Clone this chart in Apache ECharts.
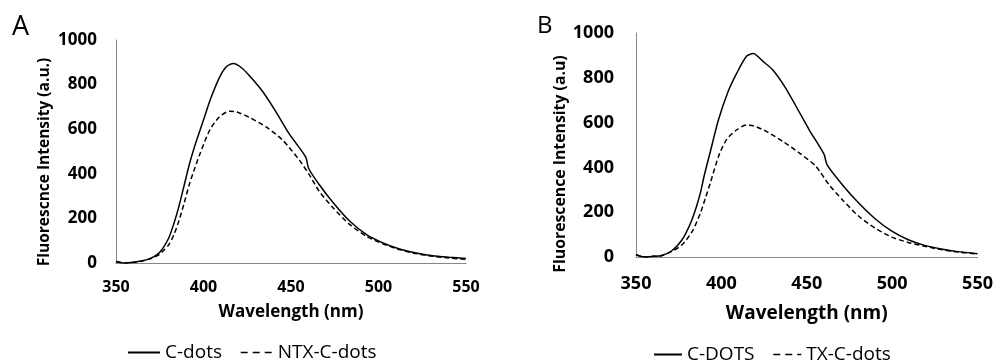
<!DOCTYPE html>
<html><head><meta charset="utf-8">
<script src="https://cdn.jsdelivr.net/npm/echarts@6/dist/echarts.min.js"></script>
<style>html,body{margin:0;padding:0;background:#fff}#c{width:996px;height:364px}</style>
</head><body><div id="c"></div>
<script>
// ---- Data ----
var xTicks = [350, 400, 450, 500, 550];
var yTicks = [0, 200, 400, 600, 800, 1000];

// Panel A
var waveA_cdots = [350,355,360,365,370,375,380,383,386,389,392,395,398,401,404,409,413,417,421,426,434,441.5,449,458.5,460,466,474,483.5,493,502.5,512,521.5,531,540.5,550];
var cdotsA      = [7,0,3,10,22,48,110,175,255,350,445,525,595,665,735,830,880,895,880,842,767,677,579,474,425,353,271,188,128,90,63,45,33,26,20];
var waveA_ntx   = [350,355,360,365,370,375,377,380,383,386,389,392,395,398,403.5,409,415,419,426,436,445.5,455,460.5,466,474,483.5,493,502.5,512,521.5,531,540.5,550];
var ntxA        = [7,0,3,9,20,40,55,80,125,190,270,355,425,490,595,655,681,677,654,609,549,459,395,323,248,173,120,86,60,42,30,22,16];

// Panel B
var waveB_cdots = [350,355,360,365,371,377,382,385,387.7,390,393.5,398.3,404,409,414.7,418.6,424.4,430,437,443.7,451.4,460,462,470.8,480.4,490,499.8,509.4,519,528.7,538.4,550];
var cdotsB      = [10,0,3,7,28,77,152,215,286,365,470,613,740,821,896,908,873,836,762,673,568,460,410,323,241,171,115,77,52,36,24,15];
var waveB_tx    = [350,355,360,365,371,377,383,387.7,390.5,393.5,398.3,403,409,414.7,418.6,426.3,436,445.7,455.3,463,470.8,480.4,490,499.8,509.4,519,528.7,538.4,550];
var txB         = [10,0,3,6,25,55,115,196,260,330,449,524,568,589,586,561,516,464,405,323,256,182,129,89,65,48,33,22,13];

var seriesNames = ['C-dots', 'NTX-C-dots', 'C-DOTS', 'TX-C-dots'];
var yNames = ['Fluorescnce Intensity (a.u.)', 'Fluorescence Intensity (a.u)'];
var xName = 'Wavelength (nm)';
var panelLabels = ['A', 'B'];

function pairs(xs, ys) { return xs.map(function (x, i) { return [x, ys[i]]; }); }

var FONT = '"Open Sans", "Liberation Sans", sans-serif';
var axisGray = '#868686';

function xAxisCfg(grid, tickSize, margin, nameSize, nameGap) {
  return {
    gridIndex: grid, type: 'value', min: xTicks[0], max: xTicks[xTicks.length - 1], interval: xTicks[1] - xTicks[0],
    axisLine: { show: true, lineStyle: { color: axisGray, width: 1 } },
    axisTick: { show: false }, splitLine: { show: false },
    axisLabel: { color: '#000', fontFamily: FONT, fontWeight: 'bold', fontSize: tickSize, margin: margin,
                 formatter: function (v) { return String(v); } },
    name: xName, nameLocation: 'middle', nameGap: nameGap,
    nameTextStyle: { color: '#000', fontFamily: FONT, fontWeight: 'bold', fontSize: nameSize }
  };
}
function yAxisCfg(grid, tickSize, margin) {
  return {
    gridIndex: grid, type: 'value', min: yTicks[0], max: yTicks[yTicks.length - 1], interval: yTicks[1] - yTicks[0],
    axisLine: { show: true, lineStyle: { color: axisGray, width: 1 } },
    axisTick: { show: false }, splitLine: { show: false },
    axisLabel: { color: '#000', fontFamily: FONT, fontWeight: 'bold', fontSize: tickSize, margin: margin,
                 formatter: function (v) { return String(v); } }
  };
}
function lineSeries(name, grid, data, dashed) {
  return {
    name: name, type: 'line', xAxisIndex: grid, yAxisIndex: grid,
    data: data, symbol: 'none', smooth: 0.25, animation: false,
    lineStyle: { color: '#000', width: 1.5, type: dashed ? [5, 3] : 'solid' },
    itemStyle: { color: '#000' }
  };
}
var legendDash = { color: '#000', width: 1.5, type: [7, 5] };

var chart = echarts.init(document.getElementById('c'), null, { renderer: 'canvas' });
chart.setOption({
  animation: false,
  backgroundColor: '#fff',
  grid: [
    { left: 116, top: 40, width: 350, height: 223 },
    { left: 636, top: 33, width: 345, height: 224 }
  ],
  xAxis: [xAxisCfg(0, 16, 16, 17, 41), xAxisCfg(1, 18, 18, 19, 47)],
  yAxis: [yAxisCfg(0, 17, 19), yAxisCfg(1, 18, 22)],
  legend: [
    { left: 127, top: 343, padding: 0, itemWidth: 32, itemHeight: 14, itemGap: 18,
      itemStyle: { opacity: 0 },
      data: [seriesNames[0], { name: seriesNames[1], lineStyle: legendDash }],
      textStyle: { color: '#000', fontFamily: FONT, fontSize: 19 } },
    { left: 653, top: 345, padding: 0, itemWidth: 28, itemHeight: 14, itemGap: 18,
      itemStyle: { opacity: 0 },
      data: [seriesNames[2], { name: seriesNames[3], lineStyle: legendDash }],
      textStyle: { color: '#000', fontFamily: FONT, fontSize: 19 } }
  ],
  series: [
    lineSeries(seriesNames[0], 0, pairs(waveA_cdots, cdotsA), false),
    lineSeries(seriesNames[1], 0, pairs(waveA_ntx, ntxA), true),
    lineSeries(seriesNames[2], 1, pairs(waveB_cdots, cdotsB), false),
    lineSeries(seriesNames[3], 1, pairs(waveB_tx, txB), true)
  ],
  graphic: [
    { type: 'text', x: 45, y: 162, rotation: Math.PI / 2,
      style: { text: yNames[0], fill: '#000', font: 'bold 15.5px ' + FONT, align: 'center', verticalAlign: 'middle' } },
    { type: 'text', x: 560, y: 164, rotation: Math.PI / 2,
      style: { text: yNames[1], fill: '#000', font: 'bold 15.8px ' + FONT, align: 'center', verticalAlign: 'middle' } },
    { type: 'text', x: 12, y: 27,
      style: { text: panelLabels[0], fill: '#000', font: '27px ' + FONT, align: 'left', verticalAlign: 'middle' } },
    { type: 'text', x: 537, y: 26,
      style: { text: panelLabels[1], fill: '#000', font: '24px ' + FONT, align: 'left', verticalAlign: 'middle' } }
  ]
});
</script>
</body></html>
